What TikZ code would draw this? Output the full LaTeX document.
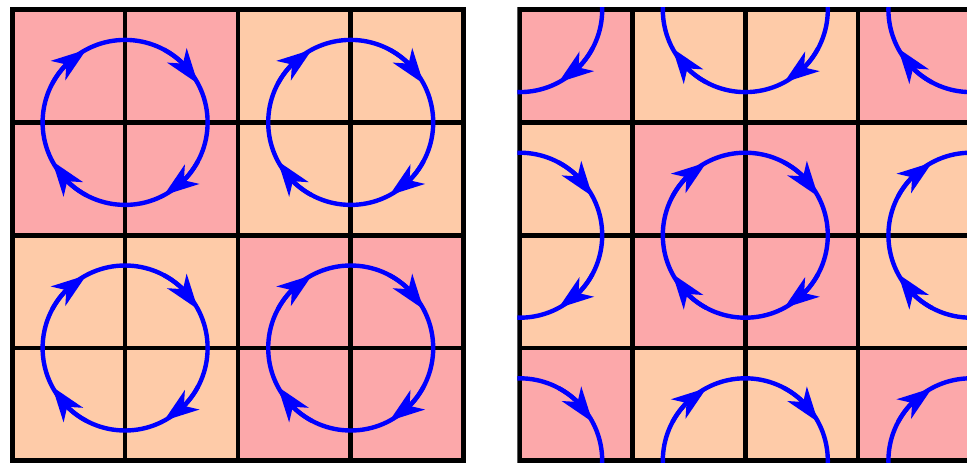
\documentclass[tikz,border=0pt]{standalone}
\usetikzlibrary{arrows.meta,bending}
\definecolor{pinkc}{RGB}{252,168,170}
\definecolor{peachc}{RGB}{254,203,168}
\newcommand\vortex[2]{%
  \draw[flow] (#1,#2) circle[radius=\rad];
  \foreach \t in {118,28,-62,-152}{%
    \draw[flowarrow] (#1,#2) ++(\t+34:\rad) arc[start angle=\t+34, end angle=\t, radius=\rad];
  }%
}
\begin{document}
\begin{tikzpicture}[x=0.5pt,y=0.5pt,
  gridline/.style={line width=2.35pt, draw=black},
  flow/.style={line width=2.2pt, draw=blue},
  flowarrow/.style={flow, -{Stealth[length=17.5pt,width=12pt,inset=5pt,flex]}}]
\useasboundingbox (0,0) rectangle (967,462);
\def\cs{112.8}
\def\rad{82.5}
% ---------- left grid ----------
\begin{scope}[shift={(12.3,1.2)}]
  \fill[pinkc]  (0,2*\cs) rectangle (2*\cs,4*\cs);
  \fill[peachc] (2*\cs,2*\cs) rectangle (4*\cs,4*\cs);
  \fill[peachc] (0,0) rectangle (2*\cs,2*\cs);
  \fill[pinkc]  (2*\cs,0) rectangle (4*\cs,2*\cs);
  \foreach \k in {1,2,3}{%
    \draw[gridline] (\k*\cs,0) -- (\k*\cs,4*\cs);
    \draw[gridline] (0,\k*\cs) -- (4*\cs,\k*\cs);
  }
  \draw[gridline] (0,0) rectangle (4*\cs,4*\cs);
  \foreach \a in {1,3}{\foreach \b in {1,3}{\vortex{\a*\cs}{\b*\cs}}}
\end{scope}
% ---------- right grid ----------
\begin{scope}[shift={(519.7,1.2)}]
  \clip (-2.35,-2.35) rectangle (4*\cs+2.35,4*\cs+2.35);
  \fill[peachc] (0,0) rectangle (4*\cs,4*\cs);
  \fill[pinkc] (0,3*\cs) rectangle (\cs,4*\cs);
  \fill[pinkc] (3*\cs,3*\cs) rectangle (4*\cs,4*\cs);
  \fill[pinkc] (0,0) rectangle (\cs,\cs);
  \fill[pinkc] (3*\cs,0) rectangle (4*\cs,\cs);
  \fill[pinkc] (\cs,\cs) rectangle (3*\cs,3*\cs);
  \foreach \k in {1,2,3}{%
    \draw[gridline] (\k*\cs,0) -- (\k*\cs,4*\cs);
    \draw[gridline] (0,\k*\cs) -- (4*\cs,\k*\cs);
  }
  \draw[gridline] (0,0) rectangle (4*\cs,4*\cs);
  \foreach \a in {0,2,4}{\foreach \b in {0,2,4}{\vortex{\a*\cs}{\b*\cs}}}
\end{scope}
\end{tikzpicture}
\end{document}
